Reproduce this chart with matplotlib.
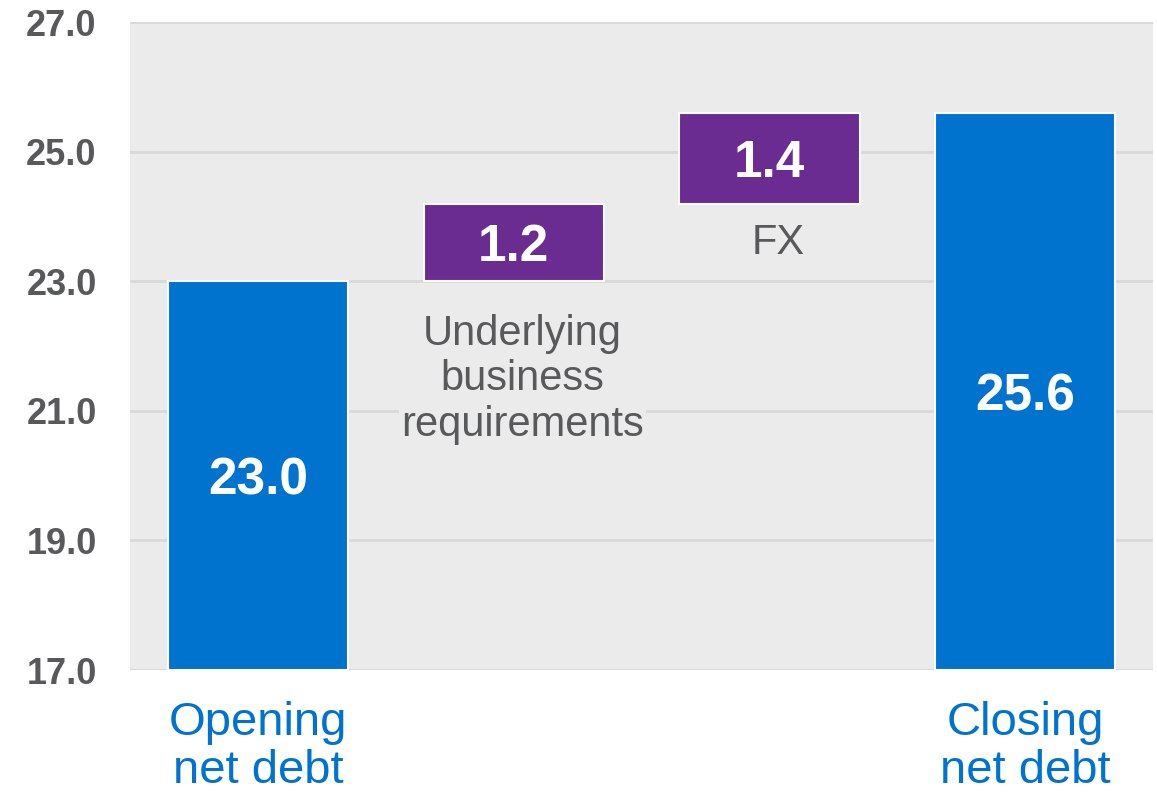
import matplotlib.pyplot as plt

plt.rcParams['font.family'] = ['Liberation Sans', 'DejaVu Sans']

# Net debt bridge values
categories = ['Opening\nnet debt', 'Underlying\nbusiness\nrequirements', 'FX', 'Closing\nnet debt']
values = [23.0, 1.2, 1.4, 25.6]
kinds = ['total', 'step', 'step', 'total']
y_ticks = [17.0, 19.0, 21.0, 23.0, 25.0, 27.0]

BLUE = '#0073CF'
PURPLE = '#6A2C90'
BG = '#EBEBEB'
GRID = '#D9D9D9'
GREY_TEXT = '#58595B'

fig = plt.figure(figsize=(11.57, 7.92), dpi=100)
ax = fig.add_axes([0.1124, 0.154, 0.8843, 0.818])
ax.set_facecolor(BG)

y_min = y_ticks[0]
running = 0.0
for i, (val, kind) in enumerate(zip(values, kinds)):
    if kind == 'total':
        bottom = y_min
        height = val - y_min
        running = val
        color = BLUE
    else:
        bottom = running
        height = val
        running += val
        color = PURPLE
    ax.bar(i, height, bottom=bottom, width=0.705, color=color,
           edgecolor='white', linewidth=1.5, zorder=3)
    ax.text(i, bottom + height / 2, f'{val:.1f}', color='white', fontsize=37,
            fontweight='bold', ha='center', va='center_baseline', zorder=4)
    if kind == 'step':
        # step names sit just below their floating bar
        offset = 0.5 if i == 1 else 0.3
        ax.text(i + 0.035, bottom - offset, categories[i], color=GREY_TEXT, fontsize=30,
                ha='center', va='top', linespacing=1.18, zorder=2,
                bbox=dict(boxstyle='square,pad=0.05', facecolor=BG, edgecolor='none'))

ax.set_ylim(y_ticks[0], y_ticks[-1])
ax.set_xlim(-0.5, 3.5)
ax.set_yticks(y_ticks)
ax.set_yticklabels([f'{t:.1f}' for t in y_ticks], fontsize=26, fontweight='bold',
                   color=GREY_TEXT)
ax.yaxis.grid(True, color=GRID, linewidth=2, zorder=0)
ax.set_axisbelow(True)

ax.set_xticks(range(len(categories)))
ax.set_xticklabels([c if k == 'total' else '' for c, k in zip(categories, kinds)],
                   fontsize=34, color=BLUE, linespacing=1.12)
ax.tick_params(axis='both', length=0)
ax.tick_params(axis='y', pad=24)
ax.tick_params(axis='x', pad=22)
for s in ax.spines.values():
    s.set_visible(False)

fig.savefig('out.png', dpi=100)
